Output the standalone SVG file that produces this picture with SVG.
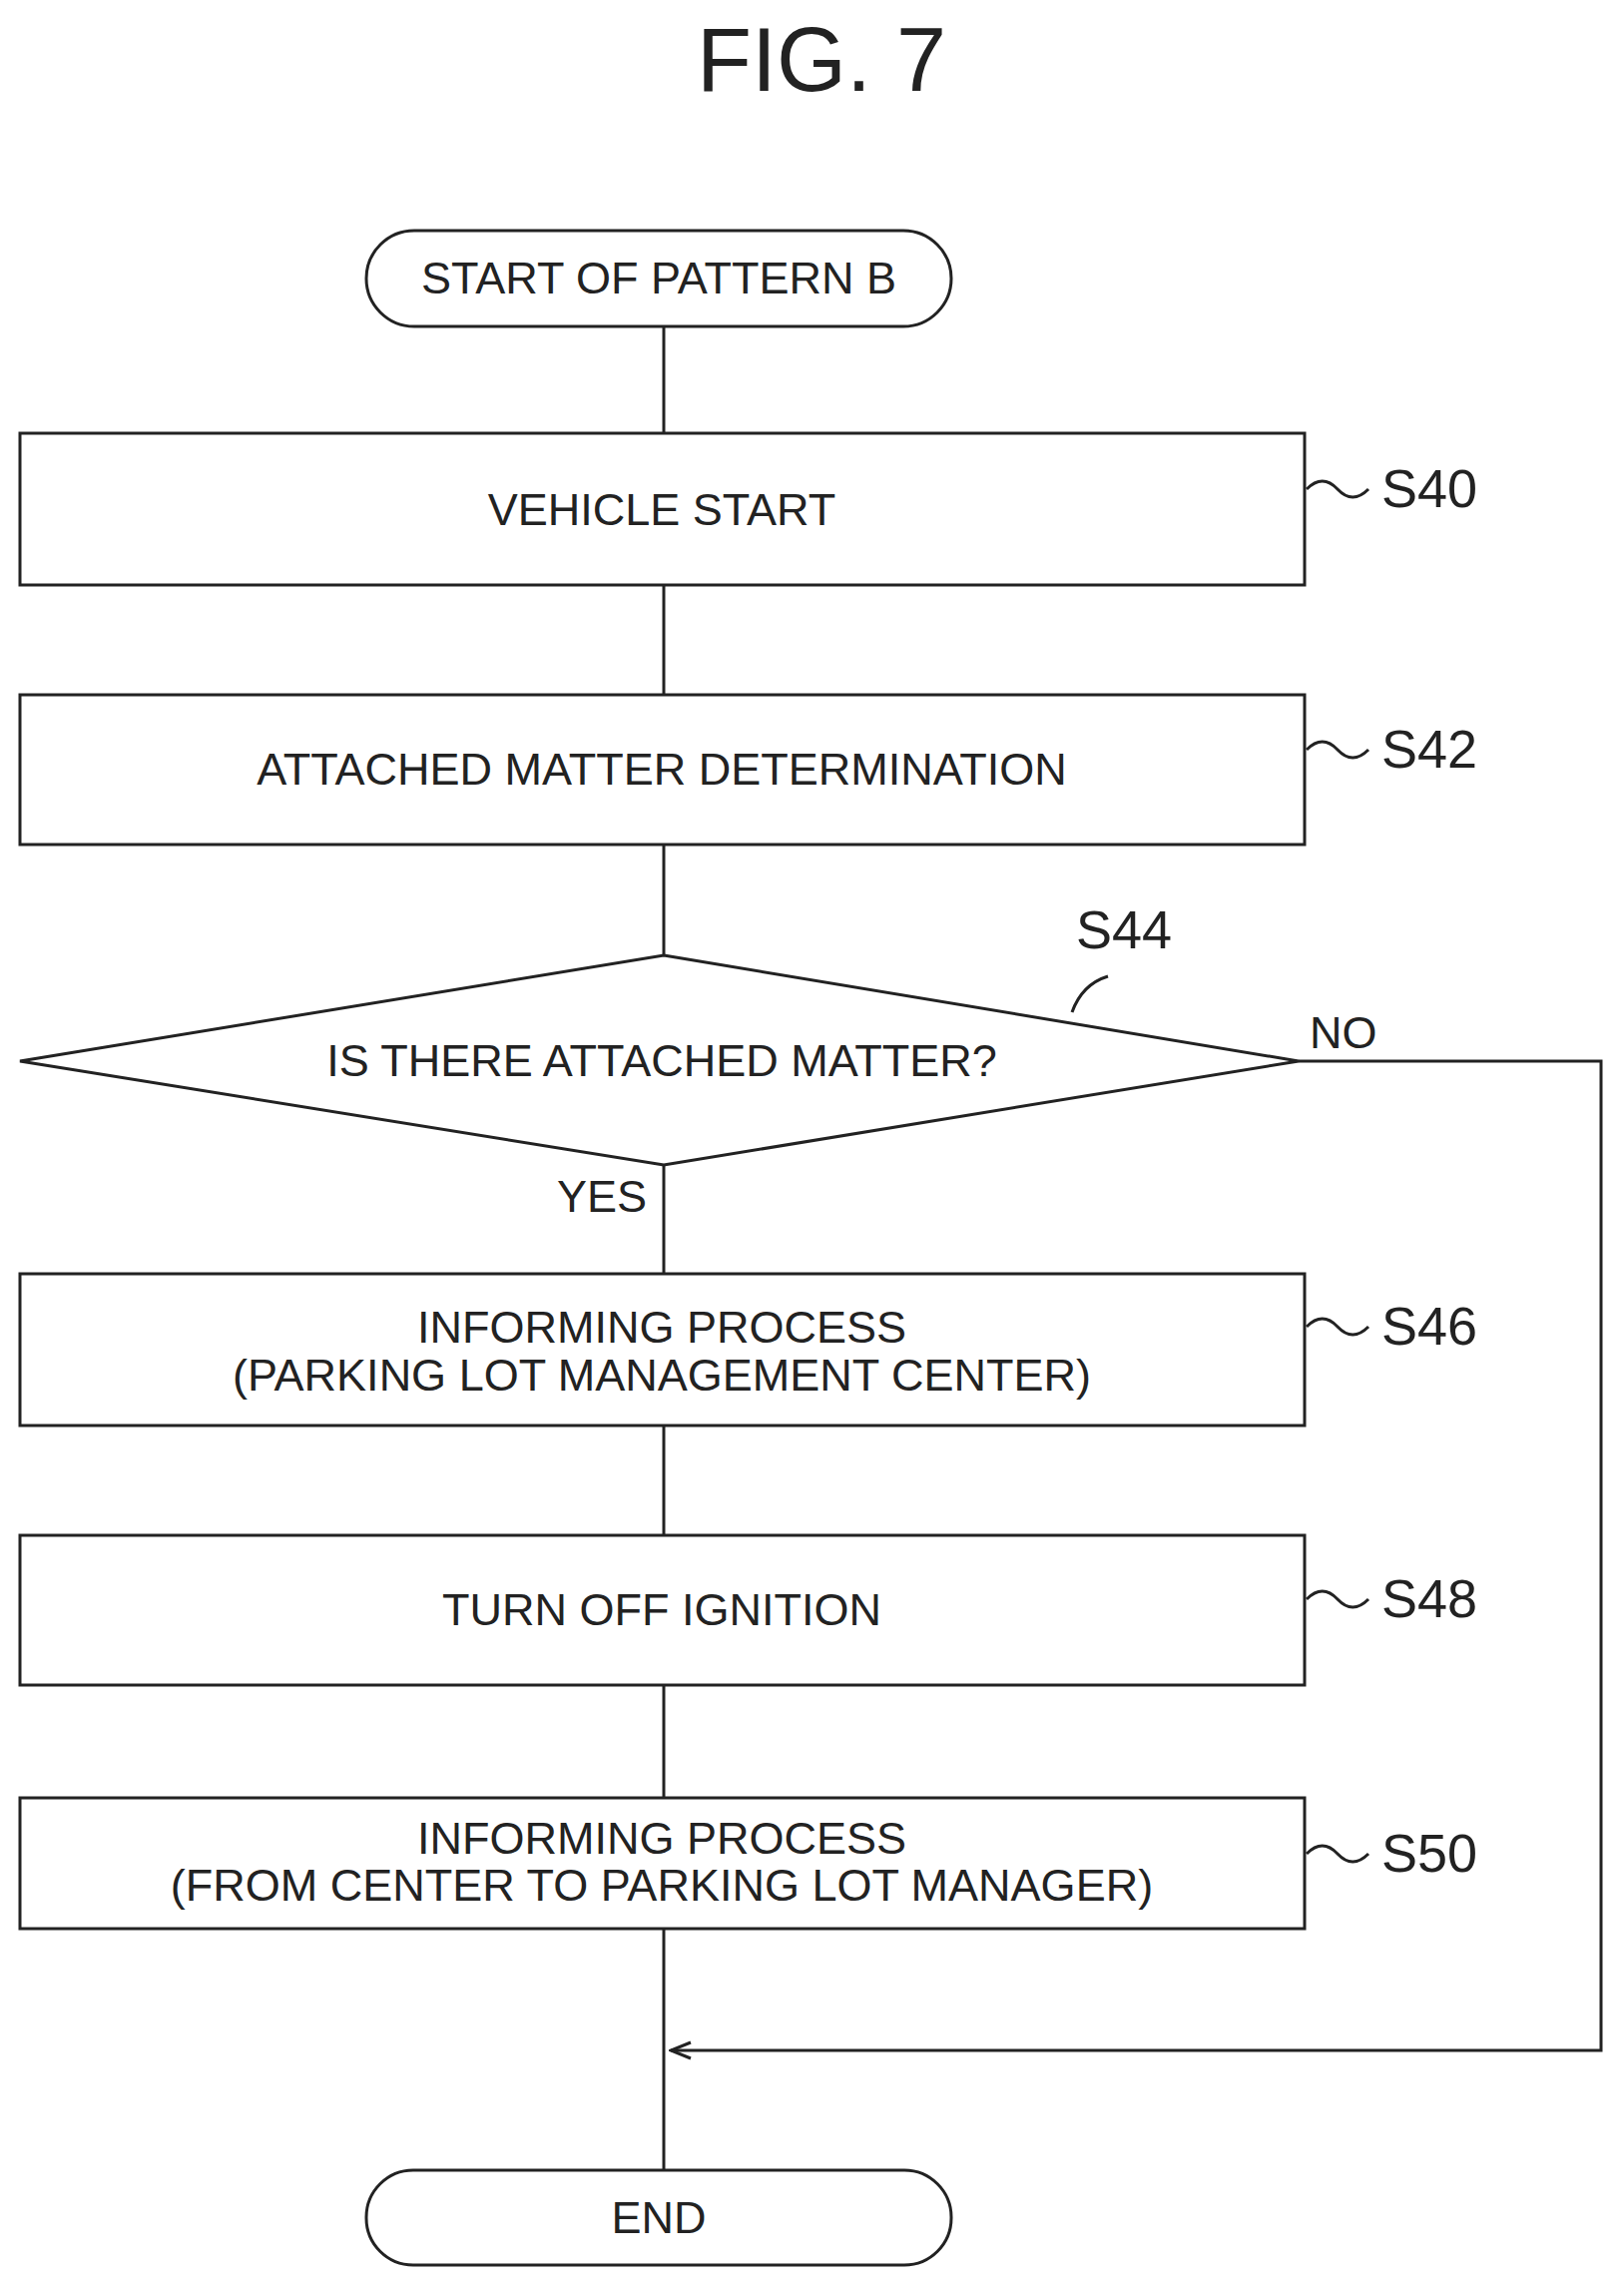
<svg xmlns="http://www.w3.org/2000/svg" width="1627" height="2294" viewBox="0 0 1627 2294">
<style>
.s{fill:none;stroke:#222;stroke-width:3}
.t{font-family:"Liberation Sans",Arial,sans-serif;font-size:45px;fill:#222;text-anchor:middle}
.l{font-family:"Liberation Sans",Arial,sans-serif;font-size:54px;fill:#222}
</style>
<defs><marker id="a" markerWidth="24" markerHeight="20" refX="22" refY="10" orient="auto" markerUnits="userSpaceOnUse"><path d="M2,2 L22,10 L2,18" fill="none" stroke="#222" stroke-width="3"/></marker></defs>
<rect width="1627" height="2294" fill="#fff"/>
<text x="823" y="91" class="t" style="font-size:90px">FIG. 7</text>
<g id="connectors">
<line class="s" x1="665" y1="327" x2="665" y2="434"/>
<line class="s" x1="665" y1="586" x2="665" y2="696"/>
<line class="s" x1="665" y1="846" x2="665" y2="957"/>
<line class="s" x1="665" y1="1167" x2="665" y2="1276"/>
<line class="s" x1="665" y1="1428" x2="665" y2="1538"/>
<line class="s" x1="665" y1="1688" x2="665" y2="1801"/>
<line class="s" x1="665" y1="1932" x2="665" y2="2174"/>
<polyline class="s" points="1301,1063 1604,1063 1604,2054 672,2054" marker-end="url(#a)"/>
<text x="1312" y="1050" class="t" style="text-anchor:start">NO</text>
<text x="648" y="1214" class="t" style="text-anchor:end">YES</text>
</g>
<g id="start"><rect class="s" x="367" y="231" width="586" height="96" rx="48"/><text class="t" x="660" y="294">START OF PATTERN B</text></g>
<g id="S40"><rect class="s" x="20" y="434" width="1287" height="152"/><text class="t" x="663" y="526">VEHICLE START</text>
<path class="s" d="M1309,490 q16,-16 31,0 t31,0"/><text class="l" x="1384" y="508">S40</text></g>
<g id="S42"><rect class="s" x="20" y="696" width="1287" height="150"/><text class="t" x="663" y="786">ATTACHED MATTER DETERMINATION</text>
<path class="s" d="M1309,751 q16,-16 31,0 t31,0"/><text class="l" x="1384" y="769">S42</text></g>
<g id="S44"><polygon class="s" points="665,957 1301,1063 665,1167 20,1063"/><text class="t" x="663" y="1078">IS THERE ATTACHED MATTER?</text>
<path class="s" d="M1074,1014 q10,-28 36,-36"/><text class="l" x="1078" y="950">S44</text></g>
<g id="S46"><rect class="s" x="20" y="1276" width="1287" height="152"/><text class="t" x="663" y="1345">INFORMING PROCESS</text><text class="t" x="663" y="1393">(PARKING LOT MANAGEMENT CENTER)</text>
<path class="s" d="M1309,1329 q16,-16 31,0 t31,0"/><text class="l" x="1384" y="1347">S46</text></g>
<g id="S48"><rect class="s" x="20" y="1538" width="1287" height="150"/><text class="t" x="663" y="1628">TURN OFF IGNITION</text>
<path class="s" d="M1309,1602 q16,-16 31,0 t31,0"/><text class="l" x="1384" y="1620">S48</text></g>
<g id="S50"><rect class="s" x="20" y="1801" width="1287" height="131"/><text class="t" x="663" y="1857">INFORMING PROCESS</text><text class="t" x="663" y="1904">(FROM CENTER TO PARKING LOT MANAGER)</text>
<path class="s" d="M1309,1857 q16,-16 31,0 t31,0"/><text class="l" x="1384" y="1875">S50</text></g>
<g id="end"><rect class="s" x="367" y="2174" width="586" height="95" rx="47"/><text class="t" x="660" y="2237">END</text></g>
</svg>
